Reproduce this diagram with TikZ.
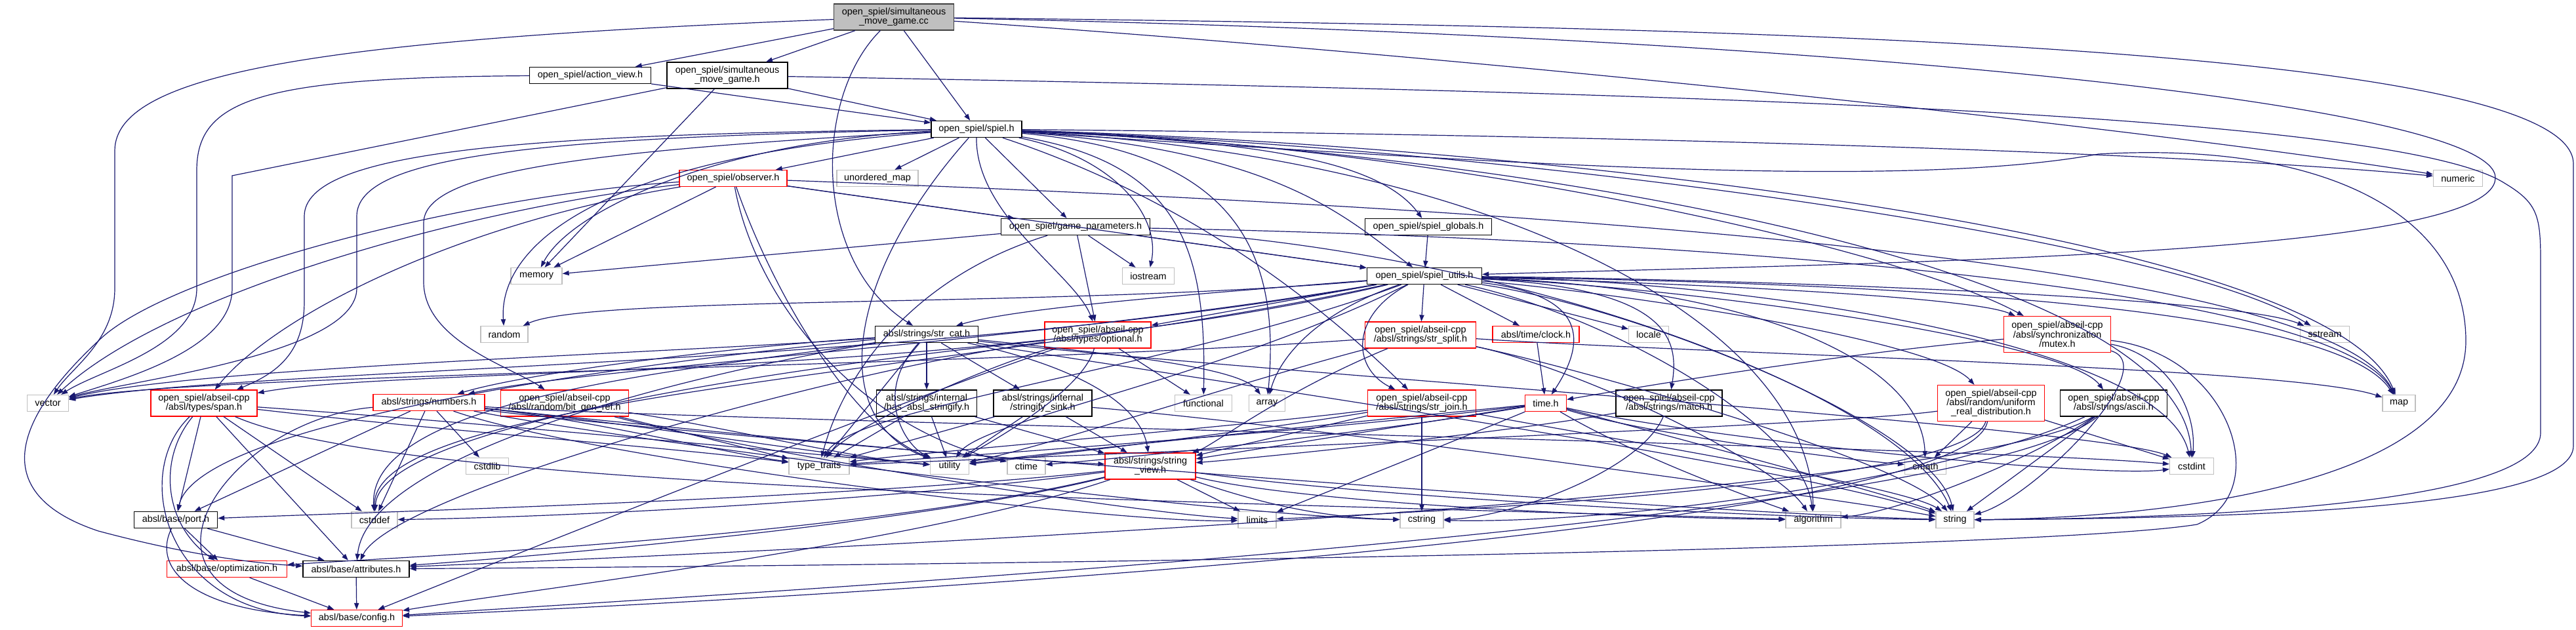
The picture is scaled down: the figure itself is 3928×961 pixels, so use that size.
\documentclass[tikz,border=0pt]{standalone}
\usepackage{fontspec}
\setmainfont{Liberation Sans}
\usetikzlibrary{arrows.meta}
\definecolor{edgec}{HTML}{191970}
\definecolor{lgray}{HTML}{BFBFBF}
\definecolor{ccfill}{HTML}{BFBFBF}
\definecolor{ccdraw}{HTML}{404040}
\definecolor{nred}{HTML}{FF0000}
\newcommand{\nfont}{\fontsize{3.6pt}{3.55pt}\selectfont}
\tikzset{
  nb/.style={draw=black, fill=white, line width=0.35pt, inner sep=0pt, font=\nfont, align=center, minimum height=6.25pt},
  nr/.style={nb, draw=nred, line width=0.3pt},
  ng/.style={nb, draw=lgray, line width=0.3pt},
  mw/.style={minimum width=#1*0.25pt},
  h2/.style={minimum height=10pt},
  h3/.style={minimum height=13.75pt},
  e/.style={draw=edgec, line width=0.3pt, -{Triangle[length=2.5pt,width=1.8pt]}}
}
\begin{document}
\begin{tikzpicture}[x=0.25pt,y=-0.25pt]
\fill[white] (0,0) rectangle (3928,961);
\useasboundingbox (0,0) rectangle (3928,961);
% nodes
\node[nb,mw=183,h2,fill=ccfill,draw=ccdraw] (cc) at (1363,26) {open\_spiel/simultaneous\\\_move\_game.cc};
\node[nb,mw=185] (av) at (900,115) {open\_spiel/action\_view.h};
\node[nb,mw=184,h2] (smh) at (1109,115) {open\_spiel/simultaneous\\\_move\_game.h};
\node[nb,mw=138] (spiel) at (1489,197) {open\_spiel/spiel.h};
\node[nr,mw=164] (obs) at (1118,272) {open\_spiel/observer.h};
\node[ng,mw=124] (umap) at (1338,272) {unordered\_map};
\node[ng,mw=75] (numeric) at (3748,272) {numeric};
\node[nb,mw=227] (gp) at (1640,346) {open\_spiel/game\_parameters.h};
\node[nb,mw=193] (glob) at (2178,346) {open\_spiel/spiel\_globals.h};
\node[ng,mw=78] (memory) at (818,421) {memory};
\node[ng,mw=79] (iostream) at (1751,421) {iostream};
\node[nb,mw=175] (utils) at (2172,421) {open\_spiel/spiel\_utils.h};
\node[ng,mw=72] (random) at (769,510) {random};
\node[nb,mw=157] (strcat) at (1413,510) {absl/strings/str\_cat.h};
\node[nr,mw=162,h2] (optional) at (1674,511) {open\_spiel/abseil-cpp\\/absl/types/optional.h};
\node[nr,mw=169,h2] (split) at (2166,511) {open\_spiel/abseil-cpp\\/absl/strings/str\_split.h};
\node[nr,mw=132] (clock) at (2342,510) {absl/time/clock.h};
\node[ng,mw=61] (locale) at (2514,510) {locale};
\node[nr,mw=163,h3] (mutex) at (3137,510) {open\_spiel/abseil-cpp\\/absl/synchronization\\/mutex.h};
\node[ng,mw=75] (sstream) at (3545,510) {sstream};
\node[ng,mw=63] (vector) at (73,615) {vector};
\node[nr,mw=162,h2] (span) at (311,615) {open\_spiel/abseil-cpp\\/absl/types/span.h};
\node[nr,mw=170] (numbers) at (654,614) {absl/strings/numbers.h};
\node[nr,mw=195,h2] (bitgen) at (861,615) {open\_spiel/abseil-cpp\\/absl/random/bit\_gen\_ref.h};
\node[nb,mw=153,h2] (hasabsl) at (1413,615) {absl/strings/internal\\/has\_absl\_stringify.h};
\node[nb,mw=150,h2] (sink) at (1590,615) {absl/strings/internal\\/stringify\_sink.h};
\node[ng,mw=87] (functional) at (1835,615) {functional};
\node[ng,mw=55] (array) at (1932,615) {array};
\node[nr,mw=165,h2] (join) at (2168,615) {open\_spiel/abseil-cpp\\/absl/strings/str\_join.h};
\node[nr,mw=63] (time) at (2357,615) {time.h};
\node[nb,mw=162,h2] (match) at (2545,615) {open\_spiel/abseil-cpp\\/absl/strings/match.h};
\node[nr,mw=163,h3] (uniform) at (3036,615) {open\_spiel/abseil-cpp\\/absl/random/uniform\\\_real\_distribution.h};
\node[nb,mw=163,h2] (ascii) at (3223,615) {open\_spiel/abseil-cpp\\/absl/strings/ascii.h};
\node[ng,mw=50] (map) at (3658,615) {map};
\node[ng,mw=65] (cstdlib) at (743,711) {cstdlib};
\node[ng,mw=92] (typetraits) at (1249,711) {type\_traits};
\node[ng,mw=59] (utility) at (1448,711) {utility};
\node[ng,mw=58] (ctime) at (1565,711) {ctime};
\node[nr,mw=138,h2] (sv) at (1754,711) {absl/strings/string\\\_view.h};
\node[ng,mw=63] (cmath) at (2936,711) {cmath};
\node[ng,mw=67] (cstdint) at (3342,711) {cstdint};
\node[nb,mw=127] (port) at (268,793) {absl/base/port.h};
\node[ng,mw=70] (cstddef) at (571,793) {cstddef};
\node[ng,mw=58] (limits) at (1917,793) {limits};
\node[ng,mw=66] (cstring) at (2168,793) {cstring};
\node[ng,mw=84] (algorithm) at (2765,793) {algorithm};
\node[ng,mw=58] (string) at (2981,793) {string};
\node[nr,mw=183] (opt) at (346,868) {absl/base/optimization.h};
\node[nb,mw=162] (attr) at (543,868) {absl/base/attributes.h};
\node[nr,mw=139] (config) at (544,943) {absl/base/config.h};
% edges: cc
\draw[e] (cc) -- (av);
\draw[e] (cc) -- (smh);
\draw[e] (cc) -- (spiel);
\draw[e] (cc) .. controls (1239,150) and (1239,400) .. (strcat);
\draw[e] (cc) .. controls (2800,55) and (3810,160) .. (3805,272) .. controls (3800,390) and (2900,400) .. (utils);
\draw[e] (cc) .. controls (2300,90) and (3300,200) .. (numeric);
\draw[e] (cc) .. controls (2500,40) and (3924,60) .. (3924,250) -- (3924,680) .. controls (3924,770) and (3500,790) .. (string);
\draw[e] (cc) .. controls (500,60) and (175,110) .. (175,230) -- (175,440) .. controls (175,520) and (110,560) .. (vector);
\draw[e] (av) -- (spiel);
\draw[e] (av) .. controls (400,118) and (300,150) .. (300,260) -- (300,440) .. controls (300,530) and (150,565) .. (vector);
\draw[e] (smh) -- (spiel);
\draw[e] (smh) -- (memory);
\draw[e] (smh) -- (354,268) -- (354,440) .. controls (354,530) and (200,575) .. (vector);
\draw[e] (smh) .. controls (2500,140) and (3650,170) .. (3820,280) .. controls (3870,310) and (3874,330) .. (3874,400) -- (3874,660) .. controls (3874,760) and (3450,790) .. (string);
% spiel
\draw[e] (spiel) -- (obs);
\draw[e] (spiel) -- (umap);
\draw[e] (spiel) -- (gp);
\draw[e] (spiel) .. controls (1700,240) and (1770,330) .. (iostream);
\draw[e] (spiel) .. controls (1900,215) and (2100,240) .. (glob);
\draw[e] (spiel) .. controls (1950,230) and (2050,330) .. (utils);
\draw[e] (spiel) .. controls (1100,215) and (870,320) .. (memory);
\draw[e] (spiel) .. controls (900,240) and (760,380) .. (random);
\draw[e] (spiel) .. controls (800,210) and (544,240) .. (544,330) -- (544,440) .. controls (544,540) and (200,580) .. (vector);
\draw[e] (spiel) .. controls (800,205) and (464,230) .. (464,330) -- (464,460) .. controls (464,540) and (420,570) .. (span);
\draw[e] (spiel) .. controls (900,230) and (646,260) .. (646,340) -- (646,430) .. controls (646,520) and (780,560) .. (bitgen);
\draw[e] (spiel) .. controls (1488,330) and (1640,420) .. (optional);
\draw[e] (spiel) .. controls (1800,300) and (2000,450) .. (join);
\draw[e] (spiel) .. controls (2200,220) and (2900,380) .. (mutex);
\draw[e] (spiel) .. controls (1800,250) and (1840,380) .. (functional);
\draw[e] (spiel) .. controls (1850,230) and (1957,350) .. (array);
\draw[e] (spiel) .. controls (2400,205) and (3300,230) .. (numeric);
\draw[e] (spiel) .. controls (2300,220) and (3550,350) .. (map);
\draw[e] (spiel) .. controls (2300,250) and (2900,290) .. (3200,235) .. controls (3550,215) and (3760,330) .. (3760,520) .. controls (3760,740) and (3300,790) .. (string);
\draw[e] (spiel) .. controls (2300,225) and (3300,360) .. (sstream);
\draw[e] (spiel) .. controls (2300,230) and (3330,400) .. (cstdint);
\draw[e] (spiel) .. controls (1290,420) and (1260,640) .. (utility);
\draw[e] (spiel) .. controls (2300,240) and (2760,500) .. (algorithm);
% observer
\draw[e] (obs) -- (gp);
\draw[e] (obs) -- (utils);
\draw[e] (obs) -- (memory);
\draw[e] (obs) .. controls (700,320) and (250,450) .. (vector);
\draw[e] (obs) .. controls (700,340) and (420,480) .. (span);
\draw[e] (obs) .. controls (2400,320) and (3550,400) .. (map);
\draw[e] (obs) .. controls (1180,450) and (1300,650) .. (utility);
\draw[e] (obs) .. controls (1150,450) and (1300,650) .. (ctime);
\draw[e] (obs) .. controls (700,300) and (250,420) .. (150,520) .. controls (0,660) and (0,760) .. (150,810) .. controls (300,850) and (400,860) .. (attr);
% game_parameters
\draw[e] (gp) -- (memory);
\draw[e] (gp) -- (iostream);
\draw[e] (gp) -- (utils);
\draw[e] (gp) -- (optional);
\draw[e] (gp) .. controls (2400,360) and (3550,420) .. (map);
\draw[e] (gp) .. controls (2300,380) and (2900,600) .. (string);
\draw[e] (gp) .. controls (1400,420) and (1290,560) .. (typetraits);
\draw[e] (glob) -- (utils);
% spiel_utils
\draw[e] (utils) .. controls (1600,470) and (900,450) .. (random);
\draw[e] (utils) .. controls (1400,560) and (400,560) .. (vector);
\draw[e] (utils) .. controls (1800,450) and (1550,470) .. (strcat);
\draw[e] (utils) -- (optional);
\draw[e] (utils) -- (split);
\draw[e] (utils) -- (clock);
\draw[e] (utils) -- (locale);
\draw[e] (utils) .. controls (2500,430) and (3000,450) .. (mutex);
\draw[e] (utils) .. controls (2600,425) and (3400,450) .. (sstream);
\draw[e] (utils) .. controls (1500,580) and (600,560) .. (span);
\draw[e] (utils) .. controls (1600,520) and (900,560) .. (numbers);
\draw[e] (utils) .. controls (2060,480) and (2060,560) .. (join);
\draw[e] (utils) .. controls (2420,450) and (2420,520) .. (time);
\draw[e] (utils) .. controls (2550,440) and (2560,520) .. (match);
\draw[e] (utils) .. controls (2500,450) and (2950,520) .. (uniform);
\draw[e] (utils) .. controls (2600,440) and (3150,520) .. (ascii);
\draw[e] (utils) .. controls (2700,430) and (3550,450) .. (map);
\draw[e] (utils) .. controls (2000,480) and (1950,550) .. (array);
\draw[e] (utils) .. controls (1800,560) and (1300,620) .. (typetraits);
\draw[e] (utils) .. controls (1850,580) and (1500,640) .. (utility);
\draw[e] (utils) .. controls (2700,440) and (2930,560) .. (cmath);
\draw[e] (utils) .. controls (2700,430) and (3300,530) .. (cstdint);
\draw[e] (utils) .. controls (2450,480) and (2750,650) .. (algorithm);
\draw[e] (utils) .. controls (2500,470) and (2950,650) .. (string);
\draw[e] (utils) .. controls (1500,570) and (570,600) .. (cstddef);
% str_cat
\draw[e] (strcat) .. controls (1000,540) and (300,560) .. (vector);
\draw[e] (strcat) .. controls (1100,530) and (800,570) .. (numbers);
\draw[e] (strcat) -- (hasabsl);
\draw[e] (strcat) -- (sink);
\draw[e] (strcat) .. controls (1650,560) and (1740,620) .. (sv);
\draw[e] (strcat) -- (typetraits);
\draw[e] (strcat) .. controls (1330,600) and (1380,680) .. (utility);
\draw[e] (strcat) .. controls (1700,540) and (1890,560) .. (array);
\draw[e] (strcat) .. controls (1700,560) and (2700,700) .. (string);
\draw[e] (strcat) .. controls (1100,560) and (560,600) .. (cstddef);
\draw[e] (strcat) .. controls (1800,560) and (3200,650) .. (cstdint);
\draw[e] (strcat) .. controls (900,560) and (300,650) .. (port);
\draw[e] (strcat) .. controls (1000,580) and (560,700) .. (attr);
% optional
\draw[e] (optional) -- (functional);
\draw[e] (optional) .. controls (1500,560) and (1300,650) .. (typetraits);
\draw[e] (optional) .. controls (1650,600) and (1500,680) .. (utility);
\draw[e] (optional) .. controls (1300,560) and (600,750) .. (attr);
\draw[e] (optional) .. controls (1400,600) and (700,880) .. (config);
\draw[e] (optional) .. controls (1200,560) and (580,650) .. (cstddef);
% str_split
\draw[e] (split) .. controls (1500,560) and (300,570) .. (vector);
\draw[e] (split) .. controls (1950,600) and (1850,680) .. (sv);
\draw[e] (split) .. controls (2400,560) and (2900,700) .. (string);
\draw[e] (split) .. controls (2400,560) and (2700,700) .. (algorithm);
\draw[e] (split) .. controls (2600,540) and (3500,560) .. (map);
\draw[e] (split) .. controls (1900,580) and (1600,680) .. (utility);
% clock, mutex
\draw[e] (clock) -- (time);
\draw[e] (mutex) .. controls (2800,540) and (2500,590) .. (time);
\draw[e] (mutex) .. controls (3300,540) and (3350,620) .. (cstdint);
\draw[e] (mutex) .. controls (3300,560) and (3100,760) .. (string);
\draw[e] (mutex) .. controls (3400,540) and (3470,750) .. (3350,800) .. controls (3100,840) and (1500,862) .. (attr);
% span
\draw[e] (span) -- (port);
\draw[e] (span) -- (cstddef);
\draw[e] (span) -- (attr);
\draw[e] (span) .. controls (240,700) and (250,800) .. (opt);
\draw[e] (span) .. controls (700,660) and (1000,680) .. (typetraits);
\draw[e] (span) .. controls (800,650) and (1200,690) .. (utility);
\draw[e] (span) .. controls (600,740) and (1600,760) .. (algorithm);
\draw[e] (span) .. controls (200,720) and (250,930) .. (config);
% numbers
\draw[e] (numbers) -- (port);
\draw[e] (numbers) -- (cstddef);
\draw[e] (numbers) -- (cstdlib);
\draw[e] (numbers) .. controls (350,640) and (160,900) .. (config);
\draw[e] (numbers) .. controls (900,640) and (1100,690) .. (typetraits);
\draw[e] (numbers) .. controls (900,700) and (1700,800) .. (limits);
\draw[e] (numbers) .. controls (1000,650) and (1500,700) .. (sv);
\draw[e] (numbers) .. controls (1000,660) and (2500,780) .. (string);
\draw[e] (numbers) .. controls (1000,680) and (1900,790) .. (cstring);
\draw[e] (numbers) .. controls (1000,640) and (3000,680) .. (cstdint);
\draw[e] (numbers) .. controls (1000,650) and (1300,700) .. (utility);
% bit_gen_ref
\draw[e] (bitgen) -- (typetraits);
\draw[e] (bitgen) .. controls (1100,650) and (1300,700) .. (utility);
\draw[e] (bitgen) .. controls (1100,680) and (1700,780) .. (limits);
% internal
\draw[e] (hasabsl) -- (typetraits);
\draw[e] (hasabsl) -- (utility);
\draw[e] (hasabsl) -- (sv);
\draw[e] (sink) -- (typetraits);
\draw[e] (sink) -- (utility);
\draw[e] (sink) -- (sv);
\draw[e] (sink) .. controls (2000,650) and (2800,760) .. (string);
% str_join
\draw[e] (join) -- (sv);
\draw[e] (join) -- (cstring);
\draw[e] (join) .. controls (2400,660) and (2900,740) .. (string);
\draw[e] (join) .. controls (1900,650) and (1400,690) .. (typetraits);
\draw[e] (join) .. controls (1900,660) and (1550,700) .. (utility);
% time
\draw[e] (time) -- (sv);
\draw[e] (time) .. controls (2100,660) and (1700,700) .. (ctime);
\draw[e] (time) .. controls (2500,660) and (2800,700) .. (cmath);
\draw[e] (time) .. controls (2600,670) and (3200,730) .. (cstdint);
\draw[e] (time) .. controls (2200,680) and (2000,760) .. (limits);
\draw[e] (time) .. controls (2600,680) and (2900,760) .. (string);
\draw[e] (time) .. controls (2000,650) and (1600,690) .. (utility);
\draw[e] (time) .. controls (2000,660) and (1400,700) .. (typetraits);
\draw[e] (time) .. controls (2500,700) and (2700,770) .. (algorithm);
% match, uniform, ascii
\draw[e] (match) .. controls (2300,660) and (1900,700) .. (sv);
\draw[e] (match) .. controls (2500,720) and (2300,790) .. (cstring);
\draw[e] (uniform) -- (cmath);
\draw[e] (uniform) -- (cstdint);
\draw[e] (uniform) .. controls (3000,740) and (2200,780) .. (limits);
\draw[e] (uniform) .. controls (2800,650) and (1500,700) .. (typetraits);
\draw[e] (uniform) .. controls (3000,800) and (1500,900) .. (config);
\draw[e] (ascii) -- (string);
\draw[e] (ascii) .. controls (3100,700) and (2900,780) .. (algorithm);
\draw[e] (ascii) .. controls (3000,720) and (2500,800) .. (cstring);
\draw[e] (ascii) .. controls (3000,760) and (1200,840) .. (attr);
\draw[e] (ascii) .. controls (3000,800) and (1200,900) .. (config);
% string_view
\draw[e] (sv) .. controls (1300,760) and (600,780) .. (port);
\draw[e] (sv) .. controls (1300,770) and (800,790) .. (cstddef);
\draw[e] (sv) -- (limits);
\draw[e] (sv) .. controls (1900,760) and (2000,790) .. (cstring);
\draw[e] (sv) .. controls (2000,770) and (2500,790) .. (algorithm);
\draw[e] (sv) .. controls (2100,760) and (2700,790) .. (string);
\draw[e] (sv) .. controls (1400,800) and (800,850) .. (attr);
\draw[e] (sv) .. controls (1300,820) and (600,850) .. (opt);
\draw[e] (sv) .. controls (1400,830) and (800,900) .. (config);
% base
\draw[e] (port) -- (opt);
\draw[e] (port) -- (attr);
\draw[e] (port) .. controls (230,870) and (300,930) .. (config);
\draw[e] (opt) -- (config);
\draw[e] (attr) -- (config);
\end{tikzpicture}
\end{document}
